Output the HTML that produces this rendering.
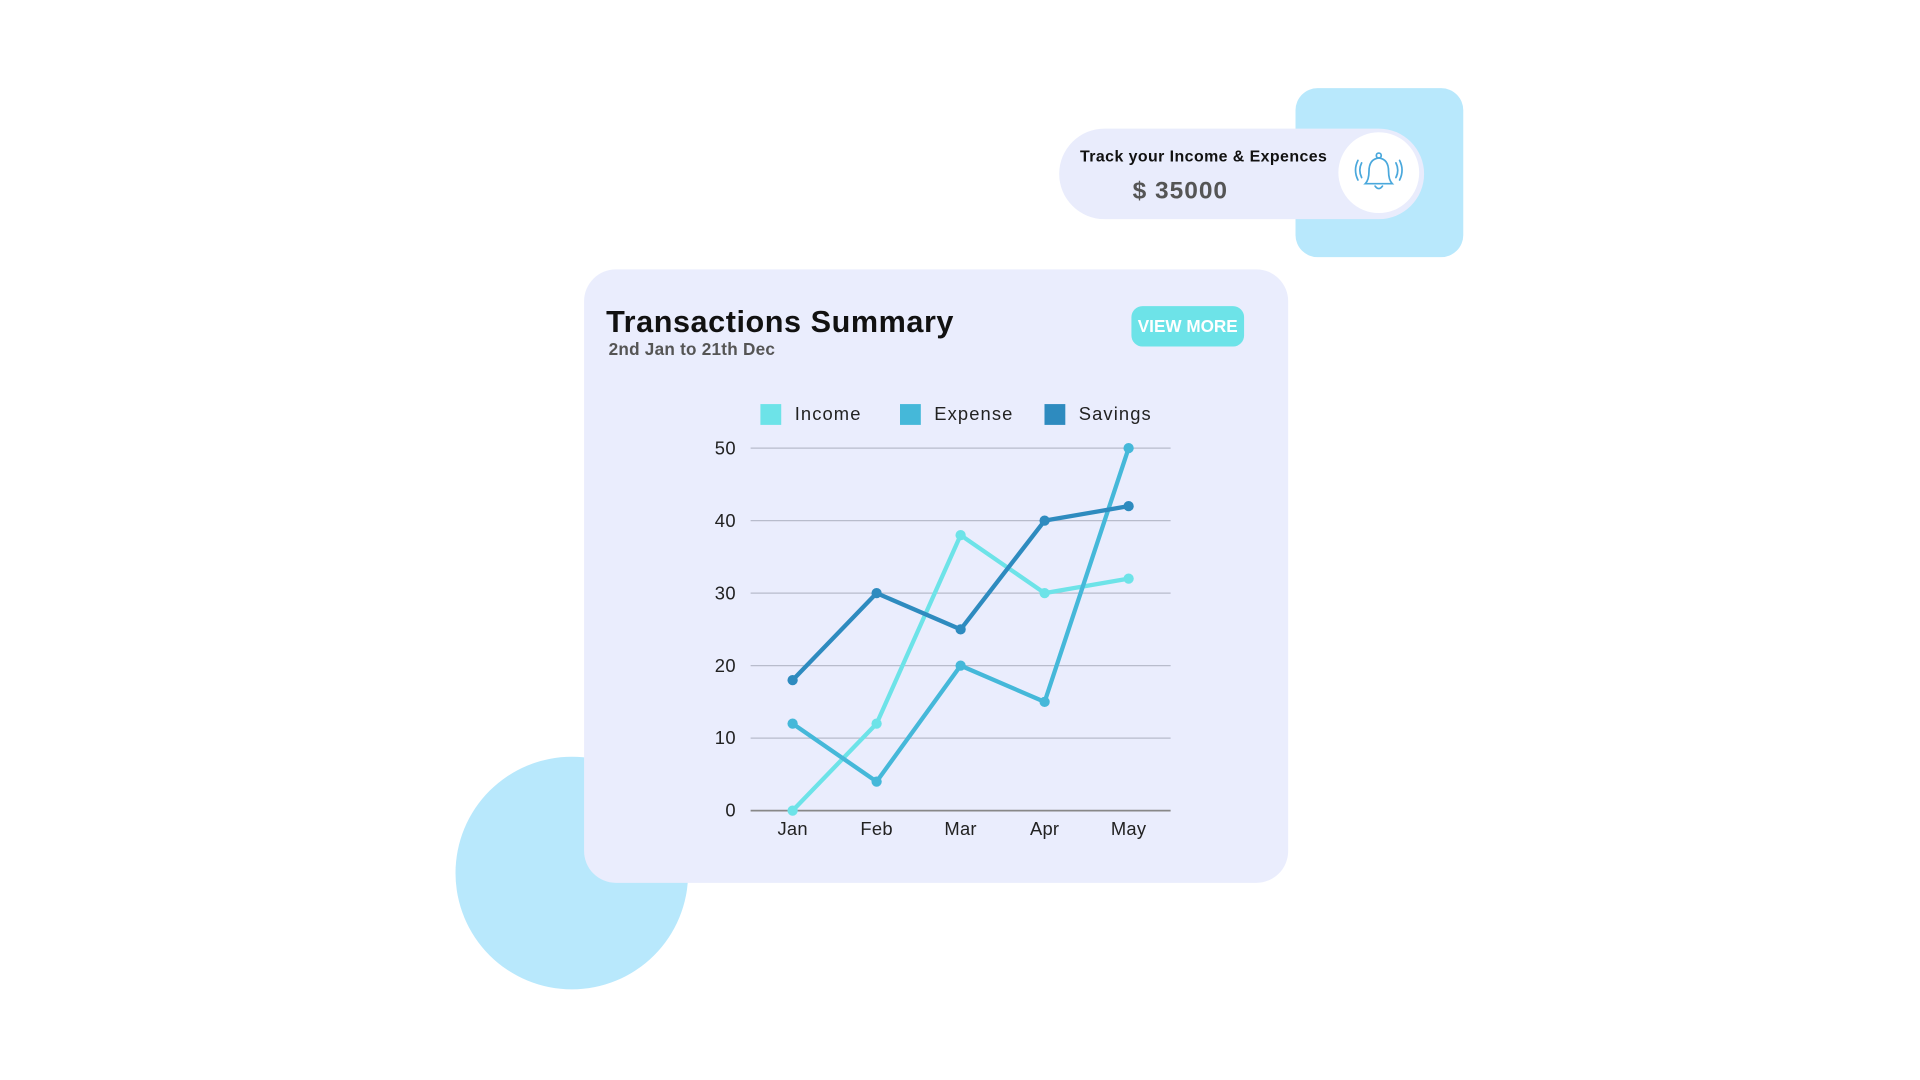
<!DOCTYPE html>
<html><head><meta charset="utf-8"><style>
html,body{margin:0;padding:0;background:#fff;width:1920px;height:1080px;overflow:hidden}
#stage{position:absolute;left:0;top:0;width:1568px;height:882px;transform:scale(1.22449);transform-origin:0 0;font-family:"Liberation Sans",sans-serif}
.abs{position:absolute}
</style></head><body>
<div id="stage">
  <div class="abs" style="left:372px;top:618px;width:190px;height:190px;border-radius:50%;background:#b8e8fc"></div>
  <div class="abs" style="left:1058px;top:72px;width:137px;height:138px;border-radius:18px;background:#b8e8fc"></div>
  <div class="abs" style="left:865px;top:105px;width:298px;height:74px;border-radius:37px;background:#e9ecfc">
    <div class="abs" style="left:17px;top:15px;font-size:13px;font-weight:bold;color:#111;white-space:nowrap;letter-spacing:0.35px">Track your Income &amp; Expences</div>
    <div class="abs" style="left:60px;top:40px;font-size:20px;font-weight:bold;color:#555;white-space:nowrap;letter-spacing:0.8px">$ 35000</div>
    <div class="abs" style="left:228px;top:3px;width:66px;height:66px;border-radius:50%;background:#fff">
      <svg width="66" height="66" viewBox="0 0 66 66">
        <g fill="none" stroke="#4aa8dc" stroke-width="1.4" stroke-linecap="round">
          <path d="M22 42 Q25 39 25 32 Q25 22 33 21 Q41 22 41 32 Q41 39 44 42 Z"/>
          <path d="M30 44 Q33 48 36 44"/>
          <circle cx="33" cy="19" r="2"/>
          <path d="M19 25 Q16 31 19 37"/><path d="M16 23 Q12 31 16 39"/>
          <path d="M47 25 Q50 31 47 37"/><path d="M50 23 Q54 31 50 39"/>
        </g>
      </svg>
    </div>
  </div>
  <div class="abs" style="left:477px;top:220px;width:575px;height:501px;border-radius:26px;background:#eaedfd">
    <div class="abs" style="left:18px;top:29px;font-size:25px;font-weight:bold;color:#111;white-space:nowrap;letter-spacing:0.45px">Transactions Summary</div>
    <div class="abs" style="left:20px;top:57px;font-size:14px;font-weight:bold;color:#555;white-space:nowrap;letter-spacing:0.2px">2nd Jan to 21th Dec</div>
    <div class="abs" style="left:447px;top:30px;width:92px;height:33px;border-radius:9px;background:#6de3e8;color:#fff;font-weight:bold;font-size:14px;line-height:33px;text-align:center">VIEW MORE</div>
  </div>
  <svg id="chart" class="abs" style="left:0;top:0" width="1568" height="882"></svg>
</div>
<script>
const categories = ["Jan","Feb","Mar","Apr","May"];
const incomeValues = [0,12,38,30,32];
const expenseValues = [12,4,20,15,50];
const savingsValues = [18,30,25,40,42];
const yTicks = [0,10,20,30,40,50];
const seriesNames = ["Income","Expense","Savings"];
const seriesColors = ["#6de3e8","#45b8d9","#2e8bbf"];
const NS="http://www.w3.org/2000/svg";
const svg=document.getElementById('chart');
const L=613,R=956,B=662,T=366,yMax=50;
const xScale=i=>L+(R-L)/categories.length*(i+0.5);
const yScale=v=>B-(B-T)*v/yMax;
function mk(tag,attrs){const e=document.createElementNS(NS,tag);for(const k in attrs)e.setAttribute(k,attrs[k]);svg.appendChild(e);return e;}
yTicks.forEach(t=>{
  const ln=mk('line',{x1:L,x2:R,y1:yScale(t),y2:yScale(t),stroke:t===0?'#888':'#b8bccc','stroke-width':t===0?1.5:1});
  
  
  const tx=mk('text',{x:601,y:yScale(t)+5,'text-anchor':'end','font-size':15,fill:'#222','font-family':'Liberation Sans, sans-serif','letter-spacing':'0.3'});
  tx.textContent=t;
  
  
});
categories.forEach((c,i)=>{
  const tx=mk('text',{x:xScale(i),y:682,'text-anchor':'middle','font-size':15,fill:'#222','font-family':'Liberation Sans, sans-serif','letter-spacing':'0.2'});
  tx.textContent=c;
  
  
});
const legendX=[621,735,853];
seriesNames.forEach((n,i)=>{
  const r=mk('rect',{x:legendX[i],y:330,width:17,height:17,fill:seriesColors[i]});
  
  
  const tx=mk('text',{x:legendX[i]+28,y:343,'font-size':15,fill:'#222','font-family':'Liberation Sans, sans-serif','letter-spacing':'0.9'});
  tx.textContent=n;
  
  
});
[incomeValues,expenseValues,savingsValues].forEach((vals,si)=>{
  const pts=vals.map((v,i)=>xScale(i)+','+yScale(v)).join(' ');
  const pl=mk('polyline',{points:pts,fill:'none',stroke:seriesColors[si],'stroke-width':3.5,'stroke-linejoin':'round'});
  
  
  vals.forEach((v,i)=>{
    const c=mk('circle',{cx:xScale(i),cy:yScale(v),r:4.2,fill:seriesColors[si]});
    
    
  });
});
</script>
</body></html>
